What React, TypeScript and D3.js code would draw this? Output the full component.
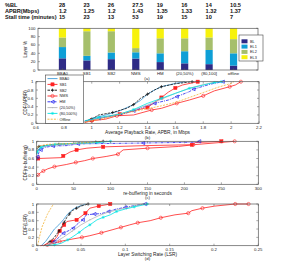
import React from 'react';
import * as d3 from 'd3';

// ---------- data ----------
const categories = ['BBA0', 'SB1', 'SB2', 'NMS', 'HM', '(20,50%)', '(80,100]', 'offline'];
const layerNames = ['BL', 'EL1', 'EL2', 'EL3'];
const blPct = [28, 23, 26, 27.5, 19, 16, 14, 10.5];
const el1Pct = [27, 11, 16, 15, 21, 29, 34, 29.5];
const el2Pct = [23, 59, 51, 10, 36, 31, 30, 34];
const el3Pct = [22, 7, 7, 47.5, 24, 24, 22, 26];

const tableRows = ['%BL', 'APBR(Mbps)', 'Stall time (minutes)'];
const tableBL = ['28', '23', '26', '27.5', '19', '16', '14', '10.5'];
const tableAPBR = ['1.2', '1.25', '1.2', '1.43', '1.35', '1.33', '1.32', '1.37'];
const tableStall = ['15', '23', '13', '53', '19', '15', '10', '7'];

const seriesNames = ['BBA0', 'SB1', 'SB2', 'NMS', 'HM', '(20,50%)', '(80,100%)', 'Offline'];

// (b) APBR CDF
const apbrBBA0 = [[0.95, 0.02], [1.0, 0.12], [1.1, 0.2], [1.2, 0.3], [1.3, 0.45], [1.35, 0.55], [1.4, 0.7], [1.45, 0.8], [1.5, 0.88], [1.6, 0.96], [1.67, 1]];
const apbrSB1 = [[0.95, 0.03], [1.0, 0.08], [1.1, 0.15], [1.2, 0.22], [1.3, 0.3], [1.4, 0.38], [1.45, 0.5], [1.5, 0.62], [1.55, 0.75], [1.6, 0.85], [1.65, 0.92], [1.76, 1]];
const apbrSB2 = [[0.95, 0.05], [1.0, 0.1], [1.05, 0.2], [1.15, 0.26], [1.25, 0.36], [1.3, 0.45], [1.35, 0.6], [1.4, 0.7], [1.45, 0.8], [1.5, 0.88], [1.6, 0.95], [1.72, 1]];
const apbrNMS = [[0.95, 0.02], [1.0, 0.06], [1.1, 0.1], [1.18, 0.18], [1.3, 0.2], [1.43, 0.32], [1.5, 0.36], [1.61, 0.48], [1.7, 0.56], [1.8, 0.66], [1.88, 0.78], [1.99, 0.88], [2.03, 0.92], [2.07, 1]];
const apbrHM = [[0.95, 0.05], [1.05, 0.12], [1.2, 0.2], [1.3, 0.3], [1.38, 0.4], [1.45, 0.48], [1.55, 0.56], [1.61, 0.64], [1.7, 0.76], [1.73, 0.82], [1.85, 0.94], [1.94, 1]];
const apbr2050 = [[0.95, 0.04], [1.05, 0.12], [1.2, 0.22], [1.3, 0.32], [1.4, 0.44], [1.5, 0.58], [1.6, 0.72], [1.7, 0.84], [1.8, 0.93], [1.9, 1]];
const apbr80100 = [[0.95, 0.06], [1.05, 0.14], [1.2, 0.22], [1.3, 0.33], [1.4, 0.48], [1.5, 0.6], [1.6, 0.72], [1.7, 0.84], [1.8, 0.92], [1.88, 0.98], [1.93, 1]];
const apbrOffline = [[0.95, 0.03], [1.1, 0.12], [1.25, 0.25], [1.4, 0.35], [1.5, 0.42], [1.6, 0.5], [1.7, 0.62], [1.8, 0.74], [1.9, 0.86], [2.0, 0.96], [2.02, 1]];

// (c) re-buffering CDF
const rebBBA0 = [[0, 0.7], [2, 0.8], [8, 0.87], [20, 0.92], [50, 0.95], [80, 0.98], [100, 1]];
const rebSB1 = [[0, 0.55], [2, 0.6], [34, 0.62], [36, 0.66], [45, 0.75], [54, 0.8], [68, 0.84], [90, 0.87], [148, 0.9], [210, 0.92], [215, 0.97], [250, 1]];
const rebSB2 = [[0, 0.82], [3, 0.88], [10, 0.9], [30, 0.93], [60, 0.96], [80, 0.98], [90, 1]];
const rebNMS = [[0, 0.18], [2, 0.22], [5, 0.27], [9, 0.31], [15, 0.36], [24, 0.41], [40, 0.46], [53, 0.51], [65, 0.55], [76, 0.6], [95, 0.65], [110, 0.7], [117, 0.8], [150, 0.84], [192, 0.88], [212, 0.92], [268, 1]];
const rebHM = [[0, 0.56], [1, 0.64], [3, 0.74], [5.4, 0.8], [11, 0.86], [22, 0.89], [41, 0.9], [56, 0.94], [100, 0.95], [144, 0.96], [217, 0.98], [220, 1]];
const reb2050 = [[0, 0.78], [5, 0.86], [15, 0.9], [40, 0.94], [70, 0.96], [95, 1]];
const reb80100 = [[0, 0.7], [1, 0.76], [3, 0.82], [6, 0.86], [12, 0.9], [25, 0.93], [50, 0.95], [82, 0.97], [100, 1]];
const rebOffline = [[0, 0.86], [5, 0.9], [15, 0.93], [45, 0.95], [68, 0.97], [90, 1]];

// (d) LSR CDF
const lsrBBA0 = [[0.005, 0], [0.01, 0.1], [0.015, 0.25], [0.02, 0.4], [0.025, 0.5], [0.03, 0.62], [0.035, 0.76], [0.04, 0.86], [0.045, 0.92], [0.05, 0.96], [0.055, 1]];
const lsrSB1 = [[0.012, 0], [0.018, 0.1], [0.023, 0.22], [0.026, 0.35], [0.028, 0.42], [0.031, 0.5], [0.034, 0.58], [0.045, 0.62], [0.05, 0.7], [0.055, 0.78], [0.06, 0.9], [0.07, 0.95], [0.083, 1]];
const lsrSB2 = [[0.008, 0], [0.015, 0.1], [0.02, 0.2], [0.025, 0.35], [0.028, 0.45], [0.031, 0.56], [0.034, 0.68], [0.037, 0.76], [0.04, 0.84], [0.045, 0.9], [0.05, 0.95], [0.058, 1]];
const lsrNMS = [[0.004, 0], [0.012, 0.02], [0.02, 0.06], [0.026, 0.1], [0.035, 0.14], [0.051, 0.2], [0.06, 0.24], [0.073, 0.31], [0.085, 0.38], [0.095, 0.44], [0.105, 0.5], [0.114, 0.55], [0.128, 0.6], [0.14, 0.67], [0.156, 0.74], [0.171, 0.78], [0.175, 0.84], [0.187, 0.9], [0.201, 0.95], [0.224, 1], [0.239, 1]];
const lsrHM = [[0.012, 0], [0.02, 0.1], [0.025, 0.2], [0.03, 0.3], [0.038, 0.38], [0.041, 0.42], [0.047, 0.54], [0.052, 0.62], [0.056, 0.74], [0.065, 0.76], [0.073, 0.77], [0.081, 0.82], [0.09, 0.88], [0.1, 0.92], [0.11, 0.96], [0.122, 1]];
const lsr2050 = [[0.01, 0], [0.02, 0.08], [0.03, 0.2], [0.04, 0.35], [0.05, 0.5], [0.06, 0.62], [0.07, 0.72], [0.08, 0.8], [0.095, 0.88], [0.11, 0.95], [0.12, 1]];
const lsr80100 = [[0.01, 0], [0.02, 0.02], [0.028, 0.06], [0.035, 0.14], [0.041, 0.22], [0.048, 0.32], [0.054, 0.42], [0.06, 0.5], [0.068, 0.62], [0.075, 0.68], [0.083, 0.74], [0.09, 0.82], [0.1, 0.88], [0.11, 0.93], [0.125, 1]];
const lsrOffline = [[0.001, 0], [0.003, 0.2], [0.006, 0.45], [0.009, 0.6], [0.012, 0.75], [0.016, 0.9], [0.019, 1]];

const apbrTicks = [0.6, 0.8, 1, 1.2, 1.4, 1.6, 1.8, 2, 2.2];
const rebTicks = [0, 50, 100, 150, 200, 250, 300];
const lsrTicks = [0, 0.05, 0.1, 0.15, 0.2, 0.25];
const cdfTicks = [0, 0.2, 0.4, 0.6, 0.8, 1];
const pctTicks = [0, 20, 40, 60, 80, 100];

// ---------- styles ----------
const FONT = '"Liberation Sans", Arial, sans-serif';
const layerColors = ['#2e2b86', '#0e9fd6', '#a6bf6c', '#f7f20c'];
const styles = [
  { color: '#3d9ad8', marker: 'none', dash: '' },
  { color: '#ff2222', marker: 'square', dash: '' },
  { color: '#111111', marker: 'plus', dash: '2.5,1' },
  { color: '#ff2222', marker: 'circle', dash: '' },
  { color: '#2222ee', marker: 'triangle', dash: '3,1,1,1' },
  { color: '#b4b4b4', marker: 'dot', dash: '' },
  { color: '#00e4e4', marker: 'star', dash: '' },
  { color: '#f2b234', marker: 'none', dash: '2,1.2' },
];

function Marker({ type, x, y, color }: any) {
  const s = 1.6;
  switch (type) {
    case 'square':
      return <rect x={x - s} y={y - s} width={2 * s} height={2 * s} fill={color} stroke={color} strokeWidth={0.5} />;
    case 'plus':
      return <path d={`M${x - s},${y}H${x + s}M${x},${y - s}V${y + s}`} stroke={color} strokeWidth={0.7} />;
    case 'circle':
      return <circle cx={x} cy={y} r={s} fill="none" stroke={color} strokeWidth={0.6} />;
    case 'triangle':
      return <path d={`M${x - s},${y}L${x + s},${y - s}L${x + s},${y + s}Z`} fill="none" stroke={color} strokeWidth={0.7} />;
    case 'dot':
      return <circle cx={x} cy={y} r={0.7} fill={color} />;
    case 'star':
      return <path d={`M${x - s},${y}H${x + s}M${x},${y - s}V${y + s}M${x - s * 0.7},${y - s * 0.7}L${x + s * 0.7},${y + s * 0.7}M${x - s * 0.7},${y + s * 0.7}L${x + s * 0.7},${y - s * 0.7}`} stroke={color} strokeWidth={0.5} />;
    default:
      return null;
  }
}

function Frame({ l, r, t, b }: any) {
  return <rect x={l} y={t} width={r - l} height={b - t} fill="none" stroke="#555" strokeWidth={0.7} />;
}

function CdfPanel({ box, xDomain, xTicks, fmt, data, ylabel, xlabel, sub, xlabelY, subY }: any) {
  const x = d3.scaleLinear().domain(xDomain).range([box.l, box.r]);
  const y = d3.scaleLinear().domain([0, 1]).range([box.b, box.t]);
  const line = d3.line<number[]>().x(d => x(d[0])).y(d => y(d[1]));
  return (
    <g>
      <rect x={box.l} y={box.t} width={box.r - box.l} height={box.b - box.t} fill="#fff" />
      {data.map((ser: number[][], i: number) => (
        <g key={i}>
          <path d={line(ser) || ''} fill="none" stroke={styles[i].color} strokeWidth={0.8} strokeDasharray={styles[i].dash} />
          {ser.map((p, j) => (j % 2 === 1 || j === ser.length - 1) ? <Marker key={j} type={styles[i].marker} x={x(p[0])} y={y(p[1])} color={styles[i].color} /> : null)}
        </g>
      ))}
      <Frame {...box} />
      {xTicks.map((t: number) => (
        <g key={t}>
          <line x1={x(t)} x2={x(t)} y1={box.b} y2={box.b - 2} stroke="#555" strokeWidth={0.5} />
          <line x1={x(t)} x2={x(t)} y1={box.t} y2={box.t + 2} stroke="#555" strokeWidth={0.5} />
          <text x={x(t)} y={box.b + 5.6} fontSize={4.3} textAnchor="middle" fill="#222">{fmt(t)}</text>
        </g>
      ))}
      {cdfTicks.map(t => (
        <g key={t}>
          <line x1={box.l} x2={box.l + 2} y1={y(t)} y2={y(t)} stroke="#555" strokeWidth={0.5} />
          <line x1={box.r} x2={box.r - 2} y1={y(t)} y2={y(t)} stroke="#555" strokeWidth={0.5} />
          <text x={box.l - 2.5} y={y(t) + 1.5} fontSize={4.3} textAnchor="end" fill="#222">{String(t)}</text>
        </g>
      ))}
      <text transform={`translate(${box.l - 9.5},${(box.t + box.b) / 2}) rotate(-90)`} fontSize={4.5} textAnchor="middle" fill="#222">{ylabel}</text>
      <text x={(box.l + box.r) / 2} y={xlabelY} fontSize={4.8} textAnchor="middle" fill="#222">{xlabel}</text>
      <text x={(box.l + box.r) / 2} y={subY} fontSize={4.3} textAnchor="middle" fill="#222">{sub}</text>
    </g>
  );
}

export default function App() {
  // ----- panel (a) -----
  const aBox = { l: 38, r: 258, t: 28.3, b: 70 };
  const xa = d3.scaleLinear().domain([0, 9]).range([aBox.l, aBox.r]);
  const ya = d3.scaleLinear().domain([0, 100]).range([aBox.b, aBox.t]);
  const stackInput = categories.map((c, i) => ({ c, BL: blPct[i], EL1: el1Pct[i], EL2: el2Pct[i], EL3: el3Pct[i] }));
  const stacked = d3.stack<any>().keys(layerNames)(stackInput);
  const barW = 7.2;
  const tableVals = [tableBL, tableAPBR, tableStall];

  const bBox = { l: 36, r: 259, t: 81.7, b: 123.3 };
  const cBox = { l: 36.7, r: 258.3, t: 141.3, b: 184.3 };
  const dBox = { l: 36.7, r: 258.3, t: 204, b: 245.7 };

  const fmtNum = (t: number) => String(+t.toFixed(2));

  return (
    <svg width={287} height={265} style={{ position: 'absolute', left: 0, top: 0, background: '#fff', fontFamily: FONT }}>
      <rect width={287} height={265} fill="#fff" />
      {/* table */}
      {tableRows.map((r, ri) => (
        <g key={r}>
          <text x={5} y={6.7 + ri * 6} fontSize={5.6} fontWeight="bold" fill="#111">{r}</text>
          {tableVals[ri].map((v, ci) => (
            <text key={ci} x={xa(ci + 1) - 3.5} y={6.7 + ri * 6} fontSize={5.6} fontWeight="bold" fill="#111">{v}</text>
          ))}
        </g>
      ))}

      {/* panel (a) */}
      <rect x={aBox.l} y={aBox.t} width={aBox.r - aBox.l} height={aBox.b - aBox.t} fill="#fff" />
      {stacked.map((layer, li) => (
        <g key={li}>
          {layer.map((d, i) => (
            <rect key={i} x={xa(i + 1) - barW / 2} y={ya(d[1])} width={barW} height={ya(d[0]) - ya(d[1])} fill={layerColors[li]} />
          ))}
        </g>
      ))}
      <Frame {...aBox} />
      {pctTicks.map(t => (
        <g key={t}>
          <line x1={aBox.l} x2={aBox.l + 2} y1={ya(t)} y2={ya(t)} stroke="#555" strokeWidth={0.5} />
          <line x1={aBox.r} x2={aBox.r - 2} y1={ya(t)} y2={ya(t)} stroke="#555" strokeWidth={0.5} />
          <text x={aBox.l - 2.5} y={ya(t) + 1.5} fontSize={4.3} textAnchor="end" fill="#222">{t}</text>
        </g>
      ))}
      {categories.map((c, i) => (
        <g key={c}>
          <line x1={xa(i + 1)} x2={xa(i + 1)} y1={aBox.b} y2={aBox.b - 2} stroke="#555" strokeWidth={0.5} />
          <text x={xa(i + 1)} y={aBox.b + 5.4} fontSize={4.3} textAnchor="middle" fill="#222">{c}</text>
        </g>
      ))}
      <text transform={`translate(${aBox.l - 11},${(aBox.t + aBox.b) / 2}) rotate(-90)`} fontSize={4.5} textAnchor="middle" fill="#222">Layer %</text>
      <text x={147} y={79.5} fontSize={4.3} textAnchor="middle" fill="#222">(a)</text>
      {/* legend (a) */}
      <rect x={239} y={35} width={24} height={26} fill="#fff" stroke="#444" strokeWidth={0.6} />
      {layerNames.map((n, i) => (
        <g key={n}>
          <rect x={241.5} y={39.3 + i * 5.3} width={6} height={4} fill={layerColors[i]} />
          <text x={250} y={42.8 + i * 5.3} fontSize={3.8} fill="#222">{n}</text>
        </g>
      ))}

      {/* panel (b) */}
      <CdfPanel box={bBox} xDomain={[0.6, 2.2]} xTicks={apbrTicks} fmt={fmtNum}
        data={[apbrBBA0, apbrSB1, apbrSB2, apbrNMS, apbrHM, apbr2050, apbr80100, apbrOffline]}
        ylabel="CDF(APBR)" xlabel="Average Playback Rate, APBR, in Mbps" sub="(b)" xlabelY={134} subY={138.5} />
      {/* legend (b) */}
      <rect x={45.5} y={75} width={38} height={48.3} fill="#fff" stroke="#444" strokeWidth={0.6} />
      {seriesNames.map((n, i) => {
        const yy = 78.6 + i * 5.8;
        return (
          <g key={n}>
            <line x1={47.5} x2={57.5} y1={yy} y2={yy} stroke={styles[i].color} strokeWidth={0.9} strokeDasharray={styles[i].dash} />
            <Marker type={styles[i].marker} x={52.5} y={yy} color={styles[i].color} />
            <text x={59.5} y={yy + 1.4} fontSize={3.8} fill="#222">{n}</text>
          </g>
        );
      })}

      {/* panel (c) */}
      <CdfPanel box={cBox} xDomain={[0, 300]} xTicks={rebTicks} fmt={fmtNum}
        data={[rebBBA0, rebSB1, rebSB2, rebNMS, rebHM, reb2050, reb80100, rebOffline]}
        ylabel="CDF(re-buffering)" xlabel="re-buffering in seconds" sub="(c)" xlabelY={195} subY={199.3} />

      {/* panel (d) */}
      <CdfPanel box={dBox} xDomain={[0, 0.25]} xTicks={lsrTicks} fmt={fmtNum}
        data={[lsrBBA0, lsrSB1, lsrSB2, lsrNMS, lsrHM, lsr2050, lsr80100, lsrOffline]}
        ylabel="CDF(LSR)" xlabel="Layer Switching Rate (LSR)" sub="(d)" xlabelY={255.5} subY={260} />
    </svg>
  );
}
